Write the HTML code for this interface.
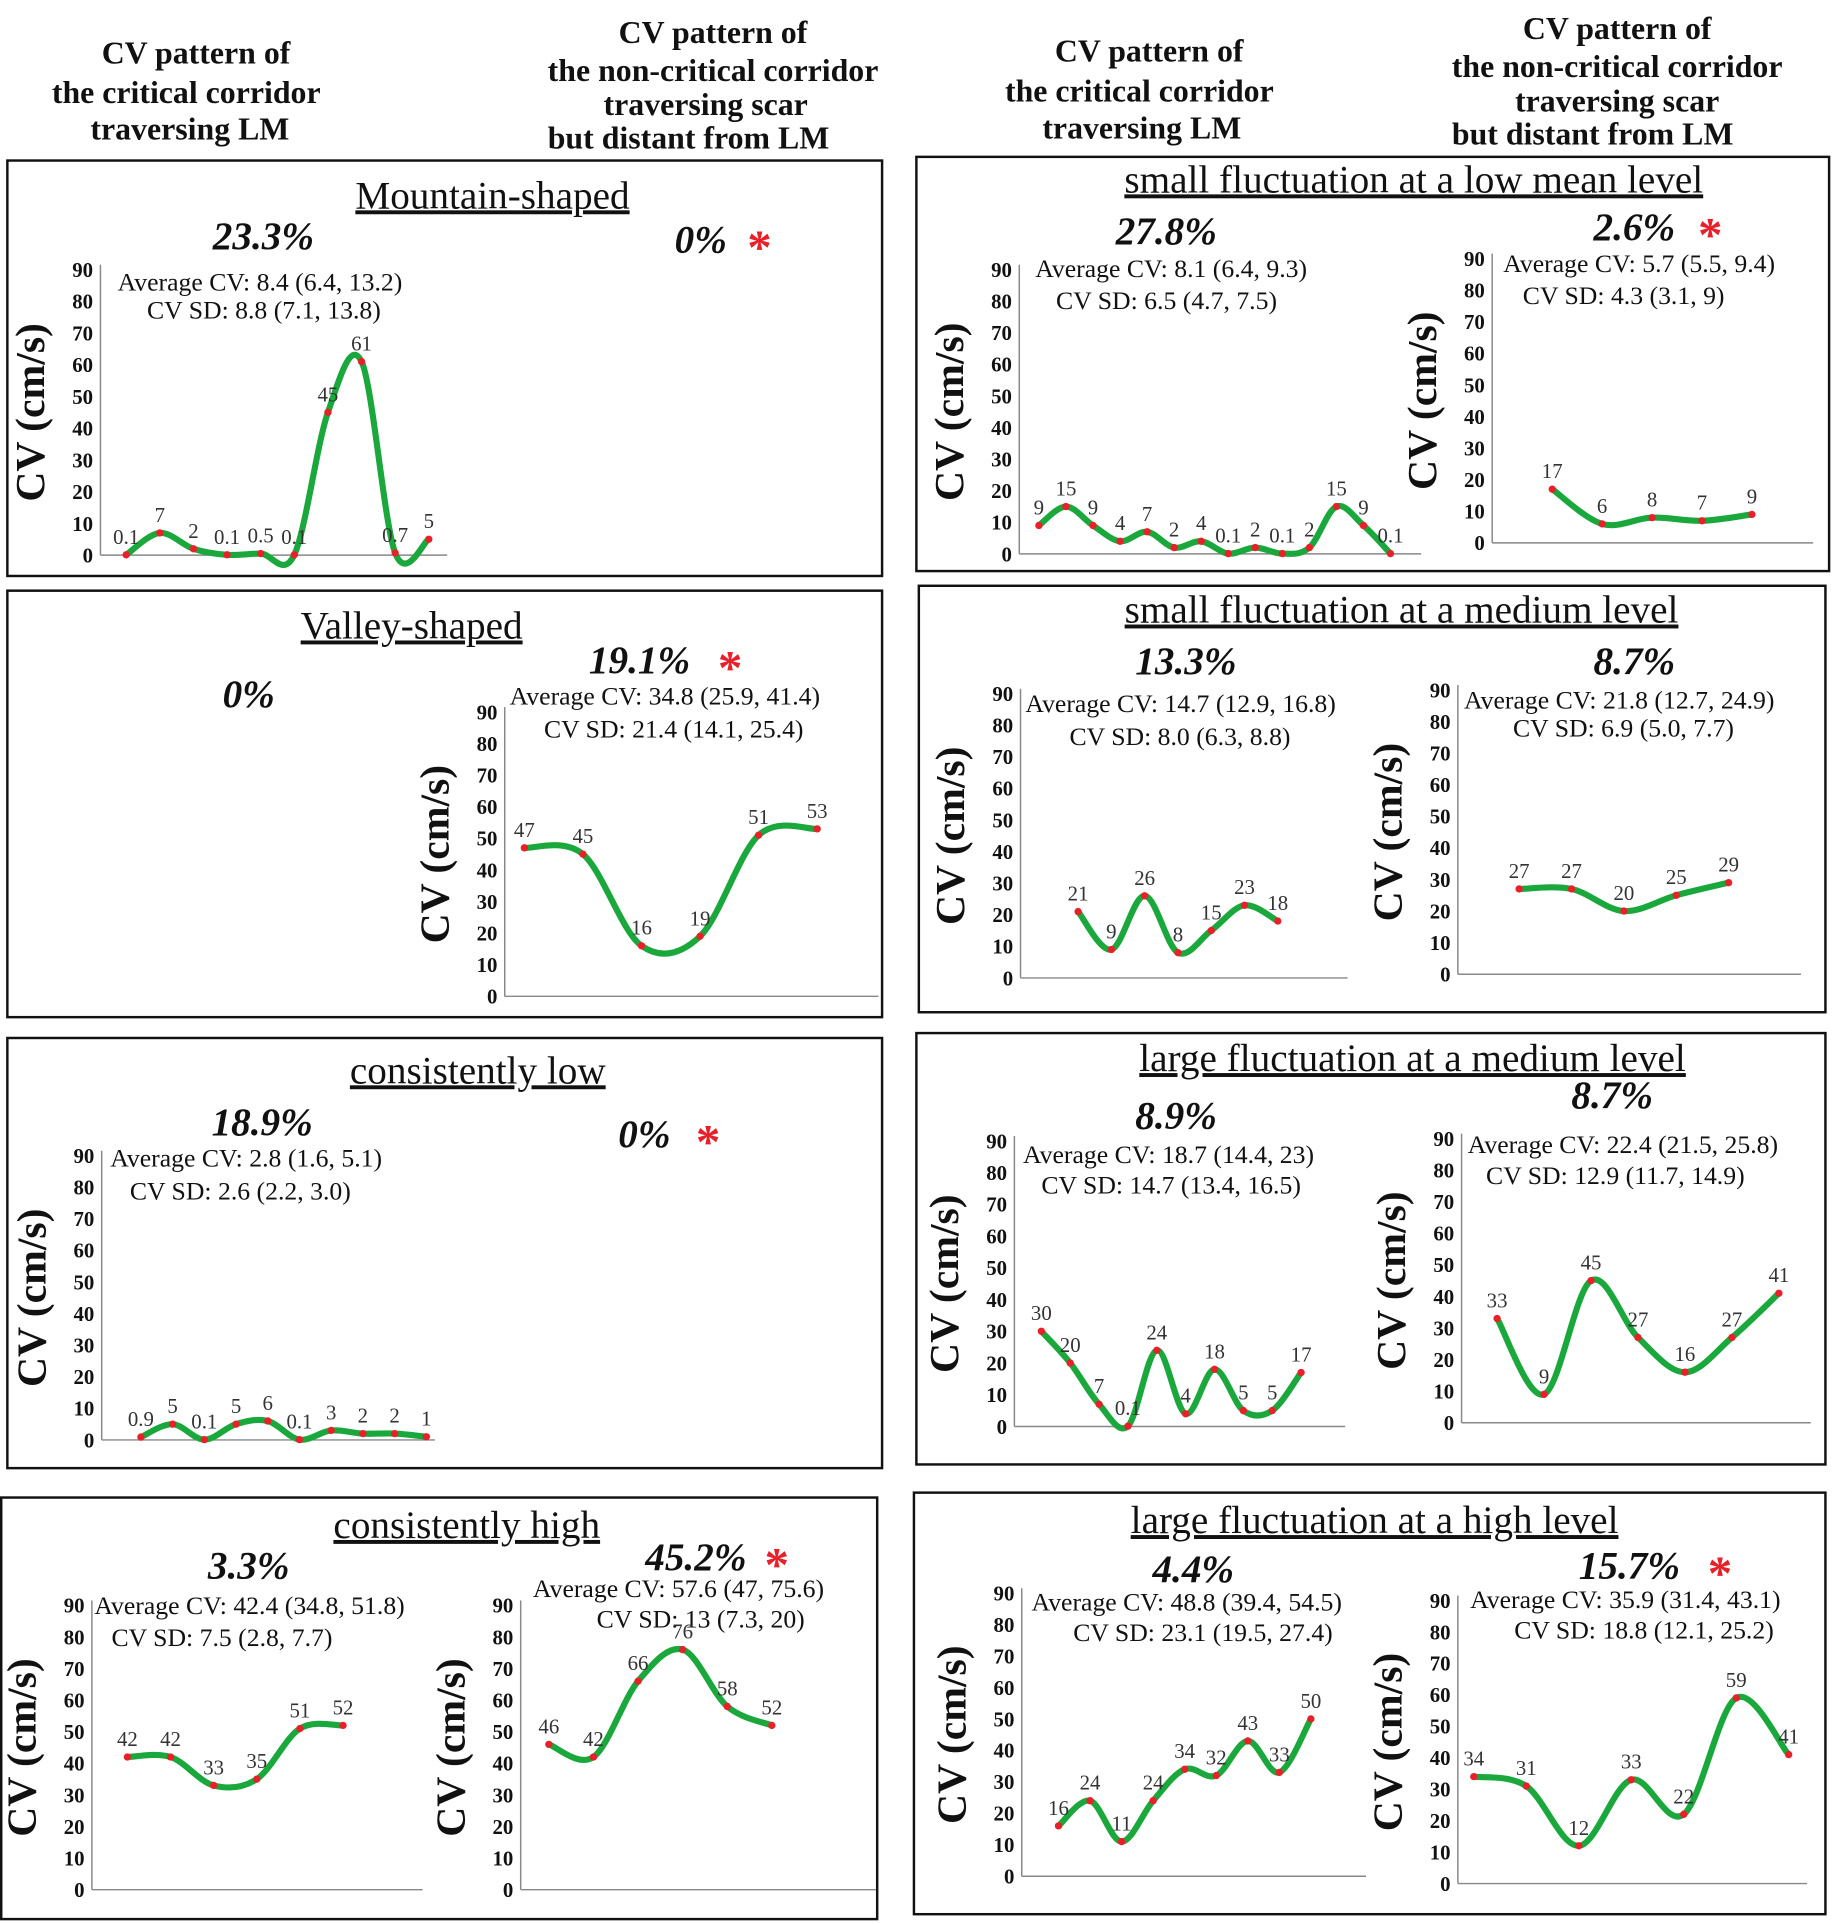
<!DOCTYPE html>
<html><head><meta charset="utf-8"><style>
html,body{margin:0;padding:0;background:#fff;}
svg{display:block;font-family:"Liberation Serif","DejaVu Serif",serif;}
text{font-family:"Liberation Serif","DejaVu Serif",serif;}
.hd{font-weight:bold;font-size:26px;text-anchor:middle;fill:#111;}
.tt{font-size:32px;text-anchor:middle;text-decoration:underline;fill:#111;}
.pc{font-weight:bold;font-style:italic;font-size:32px;text-anchor:middle;fill:#111;}
.st{font-size:21px;fill:#111;}
.star{font-size:40px;fill:#e8202a;font-weight:bold;}
.yl{font-weight:bold;font-size:34px;text-anchor:middle;fill:#111;}
.tk{font-weight:bold;font-size:17px;text-anchor:end;fill:#111;}
.vl{font-size:17px;text-anchor:middle;fill:#333;}
</style></head><body>
<svg id="root" width="1834" height="1924" viewBox="0 0 1497 1570" preserveAspectRatio="none">
<g>
<text class="hd" x="160" y="52">CV pattern of</text><text class="hd" x="152" y="84">the critical corridor</text><text class="hd" x="155" y="114">traversing  LM</text>
<text class="hd" x="582" y="35">CV pattern of</text><text class="hd" x="582" y="66">the non-critical corridor</text><text class="hd" x="576" y="94">traversing scar</text><text class="hd" x="562" y="121">but distant from LM</text>
<text class="hd" x="938" y="50">CV pattern of</text><text class="hd" x="930" y="83">the critical corridor</text><text class="hd" x="932" y="113">traversing  LM</text>
<text class="hd" x="1320" y="32">CV pattern of</text><text class="hd" x="1320" y="63">the non-critical corridor</text><text class="hd" x="1320" y="91">traversing scar</text><text class="hd" x="1300" y="118">but distant from LM</text>
</g>
<g fill="none" stroke="#111" stroke-width="2">
<rect x="6" y="131" width="714" height="339"/><rect x="6" y="482" width="714" height="348"/>
<rect x="6" y="847" width="714" height="351"/><rect x="1" y="1222" width="715" height="344"/>
<rect x="748" y="128" width="745" height="338"/><rect x="750" y="478" width="740" height="348"/>
<rect x="748" y="843" width="742" height="352"/><rect x="746" y="1218" width="744" height="344"/>
</g>
<g>
<text class="tt" x="402" y="170">Mountain-shaped</text>
<text class="pc" x="215" y="203">23.3%</text><text class="pc" x="572" y="206">0%</text><text class="star" x="610" y="215">*</text>
<text class="st" x="96" y="237">Average CV: 8.4 (6.4, 13.2)</text><text class="st" x="120" y="260">CV SD: 8.8 (7.1, 13.8)</text>

<text class="tt" x="336" y="521">Valley-shaped</text>
<text class="pc" x="203" y="577">0%</text><text class="pc" x="522" y="549">19.1%</text><text class="star" x="586" y="558">*</text>
<text class="st" x="416" y="575">Average CV: 34.8 (25.9, 41.4)</text><text class="st" x="444" y="602">CV SD: 21.4 (14.1, 25.4)</text>

<text class="tt" x="390" y="884">consistently low</text>
<text class="pc" x="214" y="926">18.9%</text><text class="pc" x="526" y="936">0%</text><text class="star" x="568" y="945">*</text>
<text class="st" x="90" y="952">Average CV: 2.8 (1.6, 5.1)</text><text class="st" x="106" y="979">CV SD: 2.6 (2.2, 3.0)</text>

<text class="tt" x="381" y="1255">consistently high</text>
<text class="pc" x="203" y="1288">3.3%</text><text class="pc" x="568" y="1281">45.2%</text><text class="star" x="624" y="1290">*</text>
<text class="st" x="77" y="1317">Average CV: 42.4 (34.8, 51.8)</text><text class="st" x="91" y="1343">CV SD: 7.5 (2.8, 7.7)</text>
<text class="st" x="435" y="1303">Average CV: 57.6 (47, 75.6)</text><text class="st" x="487" y="1328">CV SD: 13 (7.3, 20)</text>

<text class="tt" x="1154" y="157">small fluctuation at a low mean level</text>
<text class="pc" x="952" y="199">27.8%</text><text class="pc" x="1334" y="196">2.6%</text><text class="star" x="1386" y="205">*</text>
<text class="st" x="845" y="226">Average CV: 8.1 (6.4, 9.3)</text><text class="st" x="862" y="252">CV SD: 6.5 (4.7, 7.5)</text>
<text class="st" x="1227" y="222">Average CV: 5.7 (5.5, 9.4)</text><text class="st" x="1243" y="248">CV SD: 4.3 (3.1, 9)</text>

<text class="tt" x="1144" y="508">small fluctuation at a medium level</text>
<text class="pc" x="968" y="550">13.3%</text><text class="pc" x="1334" y="550">8.7%</text>
<text class="st" x="837" y="581">Average CV: 14.7 (12.9, 16.8)</text><text class="st" x="873" y="608">CV SD: 8.0 (6.3, 8.8)</text>
<text class="st" x="1195" y="578">Average CV: 21.8 (12.7, 24.9)</text><text class="st" x="1235" y="601">CV SD: 6.9 (5.0, 7.7)</text>

<text class="tt" x="1153" y="874">large fluctuation at a medium level</text>
<text class="pc" x="960" y="921">8.9%</text><text class="pc" x="1316" y="904">8.7%</text>
<text class="st" x="835" y="949">Average CV: 18.7 (14.4, 23)</text><text class="st" x="850" y="974">CV SD: 14.7 (13.4, 16.5)</text>
<text class="st" x="1198" y="941">Average CV: 22.4 (21.5, 25.8)</text><text class="st" x="1213" y="966">CV SD: 12.9 (11.7, 14.9)</text>

<text class="tt" x="1122" y="1251">large fluctuation at a high level</text>
<text class="pc" x="974" y="1291">4.4%</text><text class="pc" x="1330" y="1288">15.7%</text><text class="star" x="1394" y="1297">*</text>
<text class="st" x="842" y="1314">Average CV: 48.8 (39.4, 54.5)</text><text class="st" x="876" y="1339">CV SD: 23.1 (19.5, 27.4)</text>
<text class="st" x="1200" y="1312">Average CV: 35.9 (31.4, 43.1)</text><text class="st" x="1236" y="1337">CV SD: 18.8 (12.1, 25.2)</text>
</g>
<g id="charts"></g>
</svg>
<script>
const yTicks = [0,10,20,30,40,50,60,70,80,90];
const mountainVals = [0.1,7,2,0.1,0.5,0.1,45,61,0.7,5];
const valleyVals = [47,45,16,19,51,53];
const lowVals = [0.9,5,0.1,5,6,0.1,3,2,2,1];
const highLeftVals = [42,42,33,35,51,52];
const highRightVals = [46,42,66,76,58,52];
const smallLowLeftVals = [9,15,9,4,7,2,4,0.1,2,0.1,2,15,9,0.1];
const smallLowRightVals = [17,6,8,7,9];
const smallMedLeftVals = [21,9,26,8,15,23,18];
const smallMedRightVals = [27,27,20,25,29];
const largeMedLeftVals = [30,20,7,0.1,24,4,18,5,5,17];
const largeMedRightVals = [33,9,45,27,16,27,41];
const largeHighLeftVals = [16,24,11,24,34,32,43,33,50];
const largeHighRightVals = [34,31,12,33,22,59,41];

const NS='http://www.w3.org/2000/svg';
const root=document.getElementById('charts');
function mk(tag,attrs,parent){const e=document.createElementNS(NS,tag);for(const k in attrs)e.setAttribute(k,attrs[k]);parent.appendChild(e);return e;}

function chart(name,vals,L){
  const g=mk('g',{},root);
  
  
  const yS=v=>L.y0-(L.y0-L.y90)*v/90;
  const xS=i=>L.x0+(L.x1-L.x0)*i/(vals.length-1);
  const cy=(L.y0+L.y90)/2;
  const lab=mk('text',{class:'yl',x:0,y:0,transform:`translate(${L.ax-46},${cy}) rotate(-90)`},g);
  lab.textContent='CV (cm/s)';
  
  
  mk('line',{x1:L.ax,y1:L.y90-4,x2:L.ax,y2:L.y0,stroke:'#888','stroke-width':1.2},g);
  mk('line',{x1:L.ax,y1:L.y0,x2:L.xe,y2:L.y0,stroke:'#888','stroke-width':1.2},g);
  yTicks.forEach(t=>{const tx=mk('text',{class:'tk',x:L.ax-6,y:yS(t)+6},g);tx.textContent=t;
    
    });
  const pts=vals.map((v,i)=>[xS(i),yS(v)]);
  let d=`M${pts[0][0]},${pts[0][1]}`;
  for(let i=0;i<pts.length-1;i++){
    const p0=pts[Math.max(0,i-1)],p1=pts[i],p2=pts[i+1],p3=pts[Math.min(pts.length-1,i+2)];
    const c1=[p1[0]+(p2[0]-p0[0])/6,p1[1]+(p2[1]-p0[1])/6];
    const c2=[p2[0]-(p3[0]-p1[0])/6,p2[1]-(p3[1]-p1[1])/6];
    d+=` C${c1[0]},${c1[1]} ${c2[0]},${c2[1]} ${p2[0]},${p2[1]}`;
  }
  const path=mk('path',{d:d,fill:'none',stroke:'#1aa83c','stroke-width':5,'stroke-linecap':'round'},g);
  
  
  pts.forEach((p,i)=>{
    const c=mk('circle',{cx:p[0],cy:p[1],r:3,fill:'#e8202a'},g);
    
    
    const t=mk('text',{class:'vl',x:p[0],y:p[1]-9},g);t.textContent=vals[i];
    
    
  });
}
chart('mountain-chart',mountainVals,{ax:82,y0:453,y90:220,xe:365,x0:103,x1:350});
chart('valley-chart',valleyVals,{ax:412,y0:813,y90:581,xe:717,x0:428,x1:667});
chart('low-chart',lowVals,{ax:83,y0:1175,y90:943,xe:355,x0:115,x1:348});
chart('high-left-chart',highLeftVals,{ax:75,y0:1542,y90:1310,xe:345,x0:104,x1:280});
chart('high-right-chart',highRightVals,{ax:425,y0:1542,y90:1310,xe:715,x0:448,x1:630});
chart('small-low-left-chart',smallLowLeftVals,{ax:832,y0:452,y90:220,xe:1160,x0:848,x1:1135});
chart('small-low-right-chart',smallLowRightVals,{ax:1218,y0:443,y90:211,xe:1480,x0:1267,x1:1430});
chart('small-med-left-chart',smallMedLeftVals,{ax:833,y0:798,y90:566,xe:1100,x0:880,x1:1043});
chart('small-med-right-chart',smallMedRightVals,{ax:1190,y0:795,y90:563,xe:1470,x0:1240,x1:1411});
chart('large-med-left-chart',largeMedLeftVals,{ax:828,y0:1164,y90:931,xe:1098,x0:850,x1:1062});
chart('large-med-right-chart',largeMedRightVals,{ax:1193,y0:1161,y90:929,xe:1478,x0:1222,x1:1452});
chart('large-high-left-chart',largeHighLeftVals,{ax:834,y0:1531,y90:1300,xe:1115,x0:864,x1:1070});
chart('large-high-right-chart',largeHighRightVals,{ax:1190,y0:1537,y90:1306,xe:1475,x0:1203,x1:1460});
</script>
</body></html>
